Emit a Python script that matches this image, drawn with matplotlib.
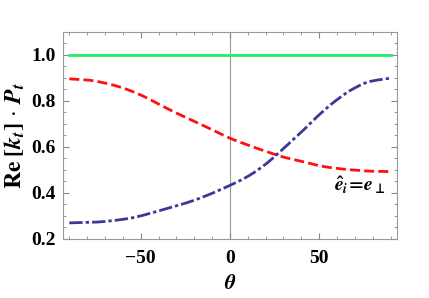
import numpy as np
import matplotlib
matplotlib.use('Agg')
import matplotlib.pyplot as plt

plt.rcParams['font.family'] = 'Liberation Serif'
plt.rcParams['font.weight'] = 'bold'
plt.rcParams['mathtext.fontset'] = 'custom'
plt.rcParams['mathtext.rm'] = 'STIXGeneral:bold'
plt.rcParams['mathtext.it'] = 'STIXGeneral:italic:bold'
plt.rcParams['mathtext.bf'] = 'STIXGeneral:bold'

# values
theta_red = [-90, -80, -67, -57.7, -48.4, -39, -28, -16.8, 0, 11.2, 22.3, 30, 41,
             50.3, 59.6, 68.9, 78, 90]
red = [0.896, 0.891, 0.872, 0.85, 0.82, 0.782, 0.74, 0.70, 0.638, 0.605, 0.575,
       0.556, 0.536, 0.518, 0.507, 0.500, 0.495, 0.493]
theta_blue = [-90, -76, -57.7, -39, -20.5, 0, 10, 20, 26, 33.5, 41, 50.3, 59.6,
              68.9, 78.2, 90]
blue = [0.27, 0.273, 0.288, 0.324, 0.367, 0.433, 0.472, 0.525, 0.565, 0.618, 0.672,
        0.742, 0.803, 0.852, 0.884, 0.899]
theta_green = [-90, 90]
green = [1.0, 1.0]


def pchip(x, y, xn):
    # monotone cubic through the read points, only to draw them smoothly
    x = np.asarray(x, float)
    y = np.asarray(y, float)
    h = np.diff(x)
    d = np.diff(y) / h
    m = np.zeros_like(y)
    for k in range(1, len(x) - 1):
        if d[k - 1] * d[k] > 0:
            w1 = 2 * h[k] + h[k - 1]
            w2 = h[k] + 2 * h[k - 1]
            m[k] = (w1 + w2) / (w1 / d[k - 1] + w2 / d[k])
    m[0] = d[0]
    m[-1] = d[-1]
    i = np.clip(np.searchsorted(x, xn) - 1, 0, len(x) - 2)
    s = (xn - x[i]) / h[i]
    h00 = 2 * s**3 - 3 * s**2 + 1
    h10 = s**3 - 2 * s**2 + s
    h01 = -2 * s**3 + 3 * s**2
    h11 = s**3 - s**2
    return h00 * y[i] + h10 * h[i] * m[i] + h01 * y[i + 1] + h11 * h[i] * m[i + 1]


fig = plt.figure(figsize=(4.29, 2.98), dpi=100)
ax = fig.add_axes([0.147, 0.198, 0.778, 0.695])

t = np.linspace(-90, 90, 400)
ax.axvline(0, color='#999999', lw=0.8, zorder=1)
ax.plot(theta_green, green, color='#22ee66', lw=2.0)
ax.plot(t, pchip(theta_red, red, t), color='#ff1010', lw=2.0, dashes=(3.6, 1.5))
ax.plot(t, pchip(theta_blue, blue, t), color='#3a3a96', lw=2.0,
        dashes=(4.8, 1.1, 1.2, 1.1))

ax.set_xlim(-93.5, 93.5)
ax.set_ylim(0.2, 1.1)
ax.set_xticks([-50, 0, 50])
ax.set_xticks(np.arange(-90, 91, 10), minor=True)
ax.set_yticks([0.2, 0.4, 0.6, 0.8, 1.0])
ax.set_yticklabels(['0.2', '0.4', '0.6', '0.8', '1.0'])
ax.set_yticks(np.arange(0.2, 1.101, 0.05), minor=True)
ax.tick_params(which='both', direction='in', top=True, right=True, color='#888888',
               labelsize=14)
ax.tick_params(axis='x', pad=8)
ax.tick_params(axis='y', pad=5)
ax.tick_params(which='major', length=4)
ax.tick_params(which='minor', length=2.5)
for s in ax.spines.values():
    s.set_color('#999999')

ax.set_xlabel(r'$\theta$', fontsize=15, labelpad=6)
ax.set_ylabel(r'$\mathrm{Re}\;[k_t]\,\cdot\,P_t$', fontsize=17, labelpad=3)
ax.text(0.965, 0.26, r'$\hat{e}_i\!=\!e_{\bot}$', transform=ax.transAxes,
        fontsize=14, ha='right', va='center')

fig.savefig('out.png', dpi=100)
